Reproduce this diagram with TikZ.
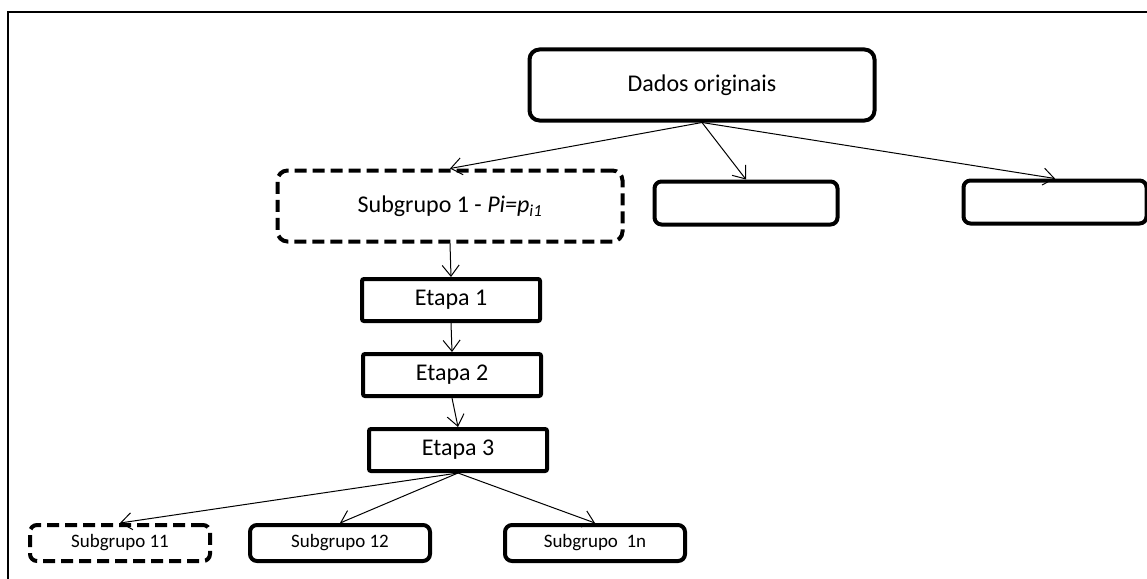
\documentclass[tikz,border=0pt]{standalone}
\usepackage{fontspec}
\setmainfont{Carlito}
\usetikzlibrary{positioning,arrows.meta}

\begin{document}
\begin{tikzpicture}[
  x=1pt, y=-1pt,
  font=\fontsize{24}{28}\selectfont,
  big/.style={draw, line width=4pt, rounded corners=10pt, align=center,
              minimum width=345pt, minimum height=71pt, inner sep=3pt},
  blank/.style={draw, line width=4pt, rounded corners=7pt,
                minimum width=183pt, minimum height=43pt, inner sep=0pt},
  etapa/.style={draw, line width=4pt, rounded corners=2pt,
                minimum width=178pt, minimum height=42pt, inner sep=2pt},
  sub/.style={draw, line width=4pt, rounded corners=7pt,
              minimum width=180pt, minimum height=36pt, inner sep=2pt,
              font=\fontsize{19}{22}\selectfont},
  dashbox/.style={dash pattern=on 12pt off 6pt},
  arr/.style={-{Straight Barb[length=11pt,width=17pt]}, line width=1pt},
]

\clip (0,0) rectangle (1147,578);

% ---- frame ------------------------------------------------------
\draw[line width=2pt] (8,12) rectangle (1175,610);

% ---- top level --------------------------------------------------
\node[big] (dados) at (702,85)   {Dados originais};
\node[big, dashbox] (sub1) at (450,206) {Subgrupo 1 - \textit{Pi=p\textsubscript{i1}}};
\node[blank] (vazio1) at (746,203) {};
\node[blank] (vazio2) at (1055,202) {};

% ---- etapas -----------------------------------------------------
\node[etapa] (etapa1) at (451,300) {Etapa 1};
\node[etapa] (etapa2) at (452,375) {Etapa 2};
\node[etapa] (etapa3) at (458,450) {Etapa 3};

% ---- subgrupos --------------------------------------------------
\node[sub, dashbox] (sub11) at (120,543) {Subgrupo 11};
\node[sub] (sub12) at (340,543) {Subgrupo 12};
\node[sub] (sub1n) at (595,543) {Subgrupo\ \ 1n};

% ---- arrows -----------------------------------------------------
\draw[arr] (dados.south) -- (sub1.north);
\draw[arr] (dados.south) -- (vazio1.north);
\draw[arr] (dados.south) -- (vazio2.north);
\draw[arr] (sub1.south)   -- (etapa1.north);
\draw[arr] (etapa1.south) -- (etapa2.north);
\draw[arr] (etapa2.south) -- (etapa3.north);
\draw[arr] (etapa3.south) -- (sub11.north);
\draw[arr] (etapa3.south) -- (sub12.north);
\draw[arr] (etapa3.south) -- (sub1n.north);

\end{tikzpicture}
\end{document}
